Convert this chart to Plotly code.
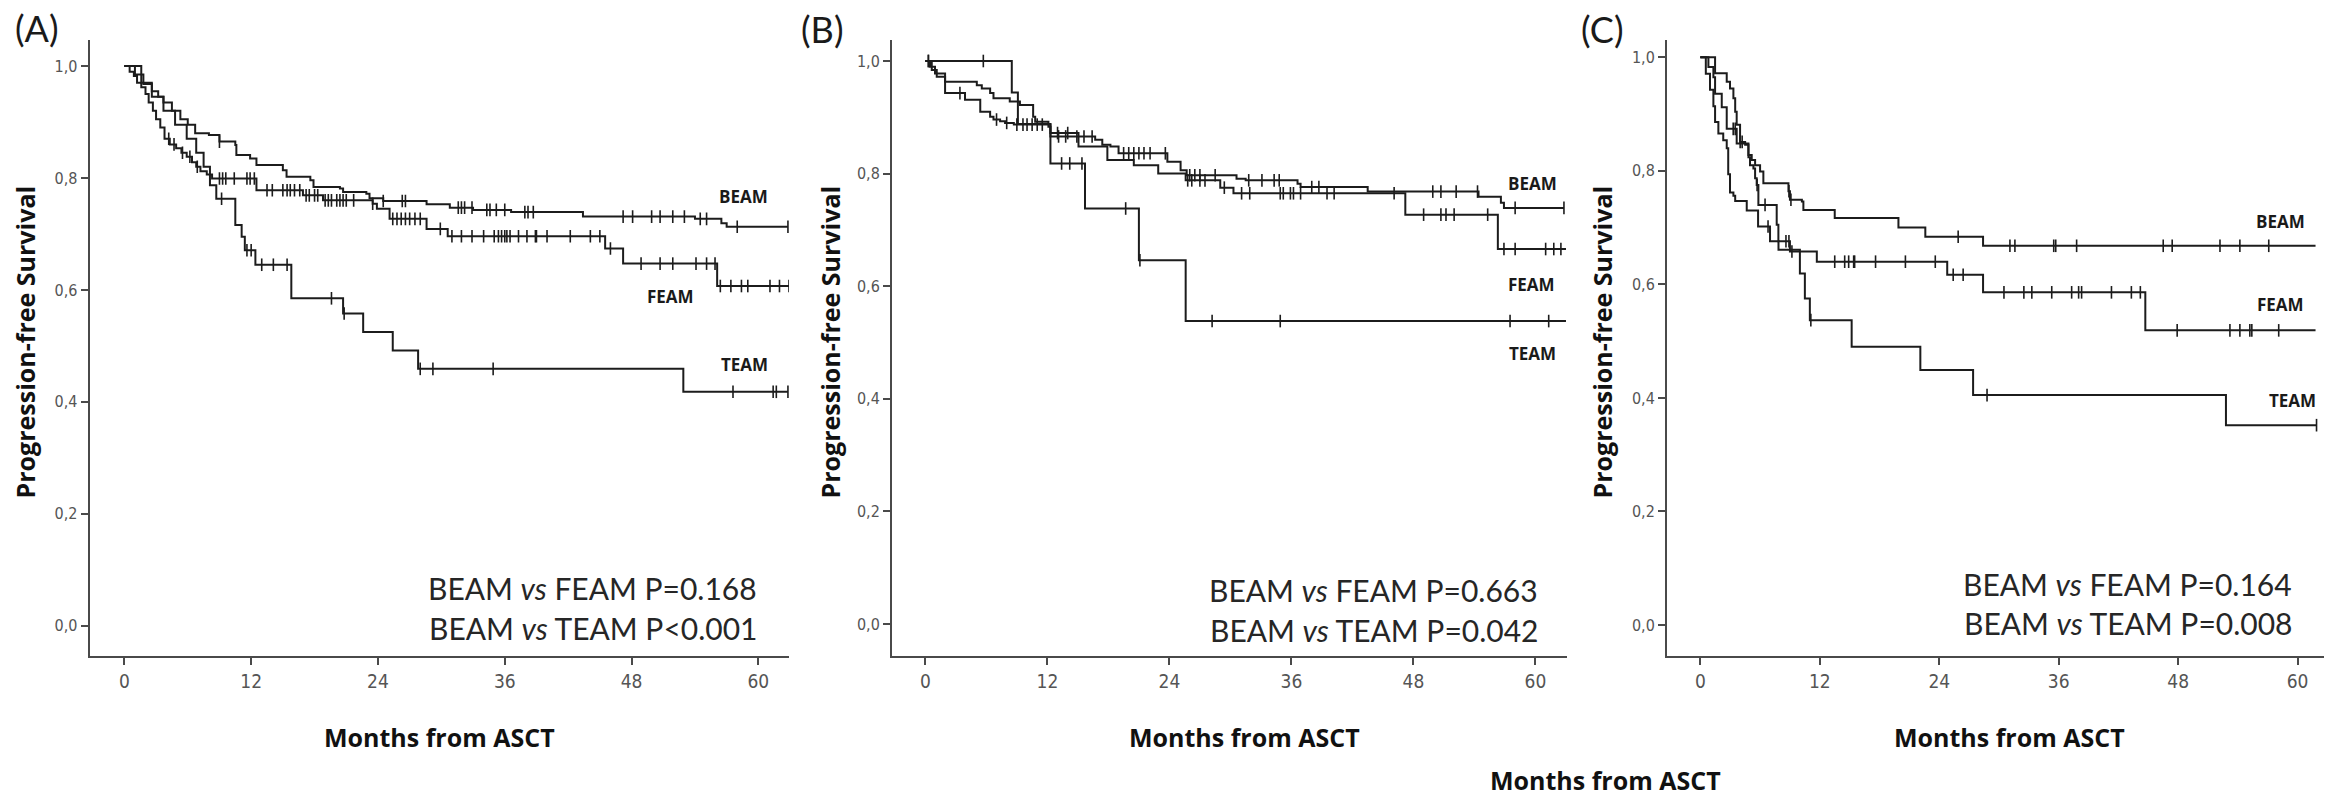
import numpy as np
import plotly.graph_objects as go

W, H = 2331, 797

# ---------------- Panel A ----------------
A_BEAM_T = [1.0, 1.8, 2.6, 3.2, 3.7, 4.5, 5.3, 6.0, 6.7, 8.0, 9.0, 10.5, 10.6, 11.9, 12.5, 15.0, 15.35,
            17.6, 17.9, 20.4, 20.7, 22.9, 23.2, 24.5, 28.6, 30.8, 33.0, 36.6, 43.4, 54.0, 56.5, 57.0]
A_BEAM_S = [0.985, 0.968, 0.955, 0.945, 0.935, 0.920, 0.905, 0.895, 0.880, 0.877, 0.865, 0.859, 0.841,
            0.835, 0.823, 0.814, 0.802, 0.796, 0.784, 0.781, 0.775, 0.772, 0.764, 0.759, 0.753, 0.747,
            0.743, 0.739, 0.731, 0.727, 0.719, 0.713]
A_BEAM_C = [9.0, 24.5, 26.3, 26.6, 31.6, 31.9, 32.2, 32.9, 34.3, 34.6, 35.2, 36.0, 37.9, 38.2, 38.7,
            47.2, 48.1, 49.9, 50.7, 51.9, 53.0, 54.5, 55.1, 58.0, 62.8]
A_BEAM_END = 62.8

A_FEAM_T = [0.5, 0.9, 1.2, 1.6, 2.0, 2.3, 2.7, 3.0, 3.4, 3.8, 4.3, 4.9, 5.4, 5.9, 6.4, 6.8, 7.2, 7.8,
            8.3, 12.5, 16.9, 18.8, 23.5, 23.9, 25.1, 28.6, 30.6, 45.5, 47.2, 56.1]
A_FEAM_S = [0.990, 0.982, 0.970, 0.962, 0.950, 0.935, 0.920, 0.905, 0.890, 0.870, 0.860, 0.853, 0.845,
            0.838, 0.828, 0.820, 0.812, 0.806, 0.799, 0.778, 0.769, 0.760, 0.754, 0.745, 0.727, 0.709,
            0.696, 0.674, 0.647, 0.607]
A_FEAM_C = [4.2, 4.7, 5.5, 6.2, 6.9, 9.0, 9.3, 9.6, 10.4, 11.6, 11.9, 12.3, 13.5, 14.0, 15.0, 15.4,
            15.7, 16.1, 16.6, 17.2, 17.5, 18.0, 18.3, 19.0, 19.3, 19.6, 20.1, 20.4, 20.7, 21.0, 21.7,
            23.5, 25.4, 25.8, 26.2, 26.6, 27.0, 27.5, 28.0, 29.9, 31.0, 31.9, 32.9, 34.0, 35.0, 35.4,
            35.7, 36.0, 36.2, 36.5, 37.3, 38.1, 38.9, 39.0, 40.0, 42.2, 44.1, 45.0, 46.0, 48.9, 50.7,
            51.9, 54.1, 55.1, 55.9, 56.4, 57.4, 58.4, 59.0, 61.1, 62.0, 62.9]
A_FEAM_END = 62.9

A_TEAM_T = [1.6, 2.6, 3.7, 4.8, 5.9, 6.8, 7.5, 8.1, 8.7, 10.5, 11.1, 11.4, 12.4, 15.8, 20.7, 22.6,
            25.4, 27.8, 52.9]
A_TEAM_S = [0.970, 0.945, 0.920, 0.895, 0.870, 0.845, 0.820, 0.787, 0.763, 0.716, 0.695, 0.671, 0.645,
            0.585, 0.558, 0.525, 0.492, 0.459, 0.418]
A_TEAM_C = [9.2, 11.6, 12.0, 13.0, 14.1, 15.4, 19.6, 20.8, 28.0, 29.2, 34.9, 57.6, 61.4, 61.7, 62.8]
A_TEAM_END = 62.8

# ---------------- Panel B ----------------
B_BEAM_T = [0.46, 0.95, 1.94, 5.06, 5.55, 6.37, 6.7, 8.3, 9.3, 10.6, 10.8, 12.1, 12.3, 16.7, 17.4,
            18.2, 19.0, 23.8, 25.1, 25.7, 30.6, 31.5, 36.6, 36.9, 43.5, 54.4, 56.6, 56.9]
B_BEAM_S = [0.990, 0.978, 0.963, 0.957, 0.951, 0.943, 0.934, 0.928, 0.922, 0.901, 0.892, 0.883, 0.866,
            0.860, 0.851, 0.848, 0.836, 0.821, 0.806, 0.797, 0.791, 0.788, 0.782, 0.776, 0.768, 0.759,
            0.748, 0.739]
B_BEAM_C = [0.3, 13.1, 13.8, 14.9, 15.6, 16.4, 19.5, 20.0, 20.5, 21.0, 21.5, 22.1, 23.6, 26.0, 26.5,
            27.0, 28.5, 31.8, 33.1, 34.3, 34.8, 38.0, 38.7, 49.9, 50.7, 52.2, 54.3, 58.0, 62.8]
B_BEAM_END = 62.8

B_FEAM_T = [0.63, 1.12, 1.94, 3.9, 5.4, 6.37, 6.7, 7.35, 7.84, 8.7, 12.3, 15.06, 17.9, 20.5, 22.9,
            25.6, 29.0, 30.3, 47.2, 56.3]
B_FEAM_S = [0.984, 0.972, 0.943, 0.931, 0.910, 0.901, 0.896, 0.893, 0.890, 0.887, 0.872, 0.848, 0.824,
            0.815, 0.800, 0.788, 0.775, 0.765, 0.727, 0.666]
B_FEAM_C = [3.4, 7.0, 8.0, 9.0, 9.6, 10.0, 10.5, 11.0, 11.5, 13.0, 14.0, 25.8, 26.2, 27.0, 27.5, 29.4,
            31.1, 31.9, 34.9, 35.2, 35.9, 36.2, 36.9, 39.5, 40.2, 46.1, 49.0, 50.7, 51.2, 52.0, 55.3,
            56.9, 58.0, 61.0, 61.8, 62.5]
B_FEAM_END = 63.0

B_TEAM_T = [8.5, 9.1, 12.3, 15.7, 21.0, 25.6]
B_TEAM_S = [0.944, 0.888, 0.818, 0.738, 0.646, 0.538]
B_TEAM_C = [0.3, 5.7, 13.4, 14.2, 15.4, 19.7, 21.1, 28.2, 34.9, 57.5, 61.3]
B_TEAM_END = 63.0

# ---------------- Panel C ----------------
C_BEAM_T = [1.48, 2.65, 2.98, 3.32, 3.5, 3.65, 3.99, 4.5, 4.83, 5.16, 5.5, 6.0, 6.33, 8.85, 9.0, 10.2,
            10.35, 13.5, 19.9, 22.6, 28.4]
C_BEAM_S = [0.972, 0.957, 0.945, 0.928, 0.904, 0.881, 0.851, 0.846, 0.828, 0.819, 0.810, 0.799, 0.778,
            0.764, 0.749, 0.746, 0.731, 0.717, 0.700, 0.684, 0.668]
C_BEAM_C = [4.0, 4.2, 8.9, 9.1, 25.9, 31.1, 31.6, 35.5, 35.7, 37.8, 46.5, 47.4, 52.2, 54.2, 57.1]
C_BEAM_END = 61.8

C_FEAM_T = [0.81, 1.31, 1.48, 2.15, 2.65, 3.65, 4.83, 4.99, 5.33, 5.5, 5.66, 5.83, 7.67, 7.84, 9.0,
            11.7, 24.8, 28.4, 44.7]
C_FEAM_S = [0.983, 0.965, 0.936, 0.912, 0.874, 0.848, 0.824, 0.810, 0.804, 0.787, 0.775, 0.740, 0.705,
            0.676, 0.658, 0.640, 0.617, 0.586, 0.519]
C_FEAM_C = [3.3, 3.5, 5.7, 6.5, 8.6, 8.9, 9.2, 13.5, 14.5, 14.9, 15.4, 15.5, 17.6, 20.6, 23.6, 25.4,
            26.4, 30.5, 32.5, 33.3, 35.3, 37.3, 38.0, 38.3, 41.3, 43.3, 44.2, 47.9, 53.2, 54.2, 55.2,
            55.4, 58.1]
C_FEAM_END = 61.8

C_TEAM_T = [0.55, 0.97, 1.31, 1.48, 1.81, 2.3, 2.65, 2.8, 2.98, 3.32, 3.5, 4.66, 5.8, 7.0, 7.85, 10.0,
            10.5, 11.0, 15.2, 22.1, 27.4, 52.8]
C_TEAM_S = [0.971, 0.943, 0.914, 0.886, 0.866, 0.854, 0.840, 0.794, 0.762, 0.756, 0.747, 0.730, 0.702,
            0.676, 0.661, 0.619, 0.575, 0.537, 0.490, 0.449, 0.405, 0.352]
C_TEAM_C = [6.8, 11.1, 28.8, 61.9]
C_TEAM_END = 61.9

ARMS = ["BEAM", "FEAM", "TEAM"]
X_TICKS = [0, 12, 24, 36, 48, 60]
Y_TICKS = [0.0, 0.2, 0.4, 0.6, 0.8, 1.0]
Y_TICK_TEXT = ["0,0", "0,2", "0,4", "0,6", "0,8", "1,0"]
P_TEXT = [
    ("BEAM <i>vs</i> FEAM P=0.168", "BEAM <i>vs</i> TEAM P<0.001"),
    ("BEAM <i>vs</i> FEAM P=0.663", "BEAM <i>vs</i> TEAM P=0.042"),
    ("BEAM <i>vs</i> FEAM P=0.164", "BEAM <i>vs</i> TEAM P=0.008"),
]
PANEL_LETTERS = ["(A)", "(B)", "(C)"]
X_TITLE = "Months from ASCT"
Y_TITLE = "Progression-free Survival"

curves = [
    [(A_BEAM_T, A_BEAM_S, A_BEAM_C, A_BEAM_END), (A_FEAM_T, A_FEAM_S, A_FEAM_C, A_FEAM_END),
     (A_TEAM_T, A_TEAM_S, A_TEAM_C, A_TEAM_END)],
    [(B_BEAM_T, B_BEAM_S, B_BEAM_C, B_BEAM_END), (B_FEAM_T, B_FEAM_S, B_FEAM_C, B_FEAM_END),
     (B_TEAM_T, B_TEAM_S, B_TEAM_C, B_TEAM_END)],
    [(C_BEAM_T, C_BEAM_S, C_BEAM_C, C_BEAM_END), (C_FEAM_T, C_FEAM_S, C_FEAM_C, C_FEAM_END),
     (C_TEAM_T, C_TEAM_S, C_TEAM_C, C_TEAM_END)],
]

# ---------------- layout geometry (pixels) ----------------
px_x = [(89.6, 789.0), (892.0, 1567.0), (1667.0, 2324.0)]
px_top, px_bottom = 40.0, 656.0
x_ranges = [(-3.29, 62.9), (-3.28, 63.1), (-3.35, 62.65)]
y_ranges = [(-0.054, 1.0465), (-0.057, 1.0373), (-0.0546, 1.0305)]

# curve-label positions in data units (month, survival)
label_pos = [
    [(58.6, 0.767), (51.7, 0.588), (58.7, 0.466)],
    [(59.7, 0.782), (59.6, 0.603), (59.7, 0.480)],
    [(58.3, 0.711), (58.3, 0.564), (59.5, 0.395)],
]
p_right = [759, 1540, 2294]
p_y = [(587.5, 628), (590, 630), (584, 623)]
letter_xy = [(37, 28), (823, 29), (1602, 29)]
xtitle_x = [439, 1244, 2009]
ytitle_x = [24, 829, 1601]

LINE_COLOR = "#1c1c1c"
AXIS_COLOR = "#4a4a4a"
TICK_FONT = "Liberation Sans Narrow, Arial Narrow, DejaVu Sans Condensed, sans-serif"


def step_value(times, surv, t):
    idx = np.searchsorted(np.asarray(times), t, side="right") - 1
    return 1.0 if idx < 0 else surv[idx]


fig = go.Figure()
annotations = []

for p in range(3):
    xa = "x" if p == 0 else f"x{p + 1}"
    ya = "y" if p == 0 else f"y{p + 1}"
    for (times, surv, cens, end), arm in zip(curves[p], ARMS):
        xs = [0.0] + list(times) + [end]
        ys = [1.0] + list(surv) + [surv[-1]]
        fig.add_trace(go.Scatter(x=xs, y=ys, mode="lines", line=dict(color=LINE_COLOR, width=2, shape="hv"),
                                 xaxis=xa, yaxis=ya, showlegend=False, name=arm, hoverinfo="skip"))
        cy = [step_value(times, surv, c) for c in cens]
        fig.add_trace(go.Scatter(x=cens, y=cy, mode="markers",
                                 marker=dict(symbol="line-ns", size=9, line=dict(color=LINE_COLOR, width=1.6)),
                                 xaxis=xa, yaxis=ya, showlegend=False, name=arm + " censored",
                                 hoverinfo="skip"))
        lx, ly = label_pos[p][ARMS.index(arm)]
        annotations.append(dict(x=lx, y=ly, xref=xa, yref=ya, text=f"<b>{arm}</b>", showarrow=False,
                                xanchor="center", yanchor="middle",
                                font=dict(family="Open Sans", size=17, color="#1a1a1a")))

    x0, x1 = px_x[p]
    axis_common = dict(showgrid=False, zeroline=False, showline=True, linecolor=AXIS_COLOR, linewidth=2,
                       ticks="outside", ticklen=7, tickwidth=2, tickcolor=AXIS_COLOR)
    fig.update_layout(**{
        ("xaxis" if p == 0 else f"xaxis{p + 1}"): dict(
            domain=[x0 / W, x1 / W], range=list(x_ranges[p]), anchor=ya,
            tickvals=X_TICKS, ticktext=[str(v) for v in X_TICKS],
            tickfont=dict(family=TICK_FONT, size=19, color="#555555"), **axis_common),
        ("yaxis" if p == 0 else f"yaxis{p + 1}"): dict(
            domain=[(H - px_bottom) / H, (H - px_top) / H], range=list(y_ranges[p]), anchor=xa,
            tickvals=Y_TICKS, ticktext=Y_TICK_TEXT,
            tickfont=dict(family=TICK_FONT, size=16, color="#555555"), **axis_common),
    })

    # p-value statements
    for line_txt, yy in zip(P_TEXT[p], p_y[p]):
        annotations.append(dict(x=p_right[p] / W, y=1 - yy / H, xref="paper", yref="paper", text=line_txt,
                                showarrow=False, xanchor="right", yanchor="middle",
                                font=dict(family="Lato", size=30, color="#262626")))
    # panel letter
    lx, ly = letter_xy[p]
    annotations.append(dict(x=lx / W, y=1 - ly / H, xref="paper", yref="paper", text=PANEL_LETTERS[p],
                            showarrow=False, xanchor="center", yanchor="middle",
                            font=dict(family="Lato", size=36, color="#1a1a1a")))
    # axis titles
    annotations.append(dict(x=xtitle_x[p] / W, y=1 - 737 / H, xref="paper", yref="paper",
                            text=f"<b>{X_TITLE}</b>", showarrow=False, xanchor="center", yanchor="middle",
                            font=dict(family="Open Sans", size=25, color="#111111")))
    annotations.append(dict(x=ytitle_x[p] / W, y=1 - 342.5 / H, xref="paper", yref="paper",
                            text=f"<b>{Y_TITLE}</b>", showarrow=False, textangle=-90,
                            xanchor="center", yanchor="middle",
                            font=dict(family="Open Sans", size=25, color="#111111")))

# shared caption under the middle panel
annotations.append(dict(x=1605.5 / W, y=1 - 779.5 / H, xref="paper", yref="paper", text=f"<b>{X_TITLE}</b>",
                        showarrow=False, xanchor="center", yanchor="middle", borderpad=0,
                        font=dict(family="Open Sans", size=25, color="#111111")))

fig.update_layout(width=W, height=H, margin=dict(l=0, r=0, t=0, b=0), paper_bgcolor="white",
                  plot_bgcolor="white", annotations=annotations, showlegend=False)

fig.write_html("out.html")
